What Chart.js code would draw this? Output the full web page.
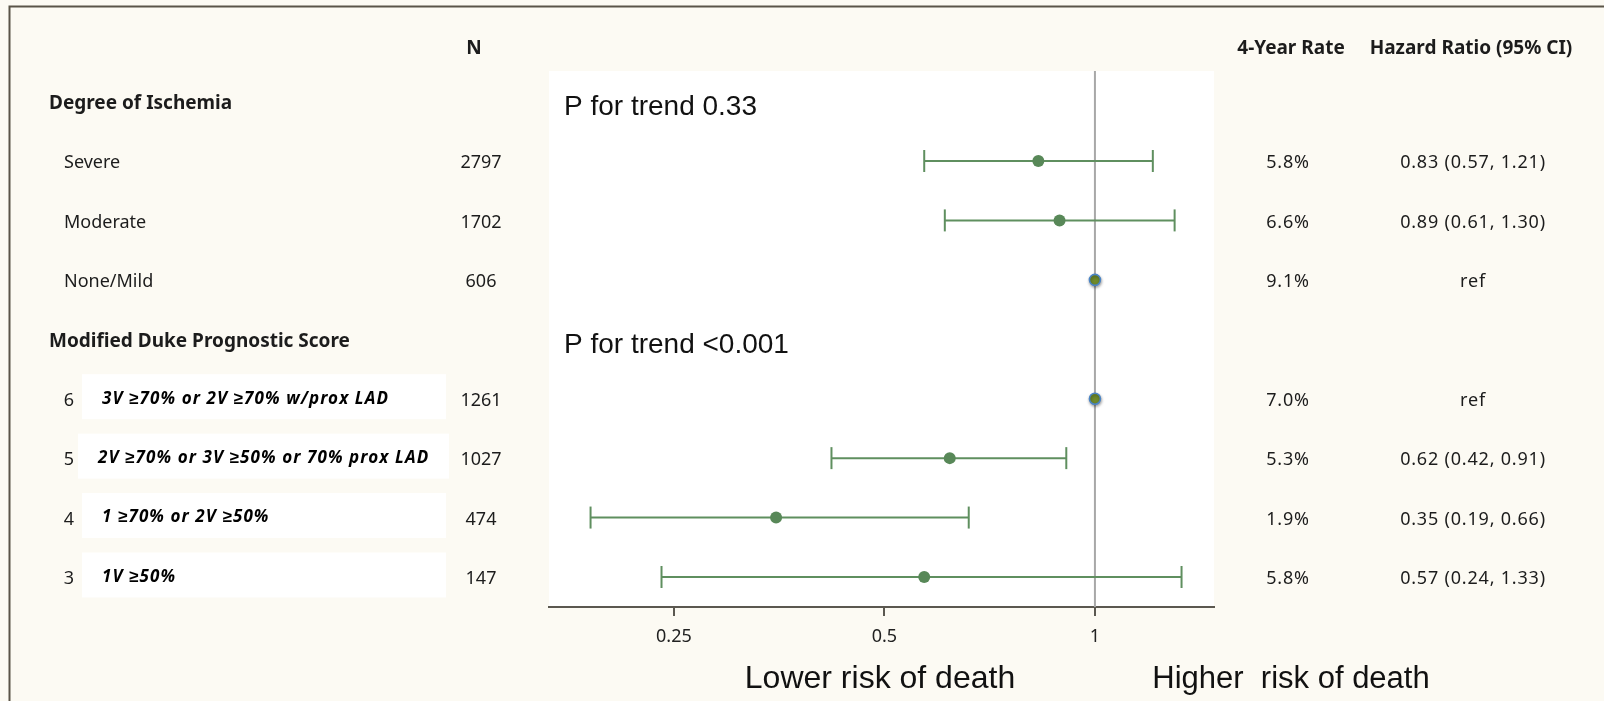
<!DOCTYPE html>
<html>
<head>
<meta charset="utf-8">
<title>Hazard ratios for death by degree of ischemia and modified Duke prognostic score</title>
<script src="https://cdn.jsdelivr.net/npm/chart.js@4.4.1/dist/chart.umd.min.js"></script>
<style>
  html, body { margin: 0; padding: 0; background: #fcfaf3; }
  canvas { display: block; }
</style>
</head>
<body>
<canvas id="forest" width="1604" height="701"></canvas>
<script>
// ---- data ----
const groupHeaders = ['Degree of Ischemia', 'Modified Duke Prognostic Score'];
const groupHeaderRows = [0, 4];
const rowNames = ['Severe', 'Moderate', 'None/Mild',
  '3V \u226570% or 2V \u226570% w/prox LAD',
  '2V \u226570% or 3V \u226550% or 70% prox LAD',
  '1 \u226570% or 2V \u226550%',
  '1V \u226550%'];
const scoreNumbers = ['', '', '', '6', '5', '4', '3'];
const rowIndex = [1, 2, 3, 5, 6, 7, 8];
const nValues = [2797, 1702, 606, 1261, 1027, 474, 147];
const fourYearRate = [5.8, 6.6, 9.1, 7.0, 5.3, 1.9, 5.8];
const hazardRatio = [0.83, 0.89, 1, 1, 0.62, 0.35, 0.57];
const ciLower = [0.57, 0.61, null, null, 0.42, 0.19, 0.24];
const ciUpper = [1.21, 1.30, null, null, 0.91, 0.66, 1.33];
const isReference = [false, false, true, true, false, false, false];
const pTrendText = ['P for trend 0.33', 'P for trend <0.001'];
const pTrendRows = [0, 4];
const xTicks = [0.25, 0.5, 1];
const xRange = [0.1657, 1.48];
const yRange = [-0.514, 8.505];

// ---- colours / fonts ----
const GREEN_LINE = '#5f8f5f';
const GREEN_DOT = '#588858';
const REF_FILL = '#6f8a2a';
const REF_EDGE = '#4a84c6';
const AXIS = '#5b5850';
const TEXT = '#1c1c1c';
const SANS = "'Noto Sans', sans-serif";
const ARIAL = "'Liberation Sans', Arial, sans-serif";

Chart.defaults.font.family = SANS;

// ---- datasets ----
const datasets = [];

// vertical line of no effect at HR = 1
datasets.push({
  type: 'line',
  data: [{ x: 1, y: yRange[0] }, { x: 1, y: yRange[1] }],
  borderColor: '#a8a8a8',
  borderWidth: 2,
  pointRadius: 0,
  order: 10
});

// confidence interval whiskers with end caps
rowIndex.forEach((r, i) => {
  if (ciLower[i] == null) return;
  datasets.push({
    type: 'line',
    data: [{ x: ciLower[i], y: r }, { x: ciUpper[i], y: r }],
    borderColor: GREEN_LINE,
    borderWidth: 2,
    pointStyle: 'line',
    rotation: 90,
    pointRadius: 11,
    pointBorderWidth: 2,
    pointBorderColor: GREEN_LINE,
    pointHoverRadius: 11,
    order: 5
  });
});

// point estimates
datasets.push({
  type: 'scatter',
  data: rowIndex.map((r, i) => ({ x: hazardRatio[i], y: r })).filter((_, i) => !isReference[i]),
  backgroundColor: GREEN_DOT,
  borderColor: GREEN_DOT,
  borderWidth: 0,
  pointRadius: 6,
  order: 2
});

// reference categories
datasets.push({
  type: 'scatter',
  data: rowIndex.map((r, i) => ({ x: hazardRatio[i], y: r })).filter((_, i) => isReference[i]),
  backgroundColor: REF_FILL,
  borderColor: REF_EDGE,
  borderWidth: 1.6,
  pointRadius: 5.5,
  order: 1,
  refMarkers: true
});

// ---- plugins ----
const backdrop = {
  id: 'backdrop',
  beforeDraw(chart) {
    const { ctx, chartArea: a } = chart;
    ctx.save();
    ctx.fillStyle = '#fcfaf3';
    ctx.fillRect(0, 0, chart.width, chart.height);
    ctx.fillStyle = '#ffffff';
    ctx.fillRect(a.left, a.top, a.right - a.left, a.bottom - a.top);
    // outer frame (top and left edges)
    ctx.strokeStyle = '#5a5448';
    ctx.lineWidth = 2;
    ctx.beginPath();
    ctx.moveTo(9.5, chart.height + 5);
    ctx.lineTo(9.5, 6.5);
    ctx.lineTo(chart.width + 5, 6.5);
    ctx.stroke();
    // white label panels for the Duke score rows
    const y = chart.scales.y;
    rowIndex.forEach((r, i) => {
      if (!scoreNumbers[i]) return;
      const cy = y.getPixelForValue(r) - 2;
      const wide = rowNames[i].length > 32;
      const x0 = wide ? 78 : 82;
      const x1 = wide ? 449 : 446;
      ctx.fillRect(x0, cy - 22.5, x1 - x0, 45);
    });
    ctx.restore();
  }
};

const markerShadow = {
  id: 'markerShadow',
  beforeDatasetDraw(chart, args) {
    if (!chart.data.datasets[args.index].refMarkers) return;
    const ctx = chart.ctx;
    ctx.save();
    ctx.shadowColor = 'rgba(0,0,0,0.35)';
    ctx.shadowBlur = 3;
    ctx.shadowOffsetX = 0.5;
    ctx.shadowOffsetY = 1.5;
  },
  afterDatasetDraw(chart, args) {
    if (!chart.data.datasets[args.index].refMarkers) return;
    chart.ctx.restore();
  }
};

const tableText = {
  id: 'tableText',
  afterDraw(chart) {
    const { ctx } = chart;
    const y = chart.scales.y;
    const x = chart.scales.x;
    const dy = 2; // optical centring of text on each row
    ctx.save();
    ctx.fillStyle = TEXT;
    ctx.textBaseline = 'middle';

    // column headers
    ctx.font = `bold 19px ${SANS}`;
    ctx.textAlign = 'center';
    ctx.fillText('N', 474, 49);
    ctx.fillText('4-Year Rate', 1291, 49);
    ctx.fillText('Hazard Ratio (95% CI)', 1471, 49);

    // group headers
    ctx.textAlign = 'left';
    groupHeaders.forEach((h, k) => ctx.fillText(h, 49, y.getPixelForValue(groupHeaderRows[k]) + dy));

    rowIndex.forEach((r, i) => {
      const py = y.getPixelForValue(r) + dy;
      ctx.fillStyle = TEXT;
      if (scoreNumbers[i]) {
        ctx.font = `18px ${SANS}`;
        ctx.textAlign = 'center';
        ctx.fillText(scoreNumbers[i], 69, py);
        ctx.font = `italic bold 17px ${SANS}`;
        ctx.letterSpacing = '1.1px';
        ctx.textAlign = 'left';
        ctx.fillStyle = '#000';
        ctx.fillText(rowNames[i], rowNames[i].length > 32 ? 98 : 102, py - 2);
        ctx.letterSpacing = '0px';
      } else {
        ctx.font = `18px ${SANS}`;
        ctx.textAlign = 'left';
        ctx.fillText(rowNames[i], 64, py);
      }
      ctx.fillStyle = TEXT;
      ctx.font = `18px ${SANS}`;
      ctx.textAlign = 'center';
      ctx.fillText(String(nValues[i]), 481, py);
      ctx.letterSpacing = '0.8px';
      ctx.fillText(fourYearRate[i].toFixed(1) + '%', 1288, py);
      const hr = isReference[i] ? 'ref'
        : `${hazardRatio[i].toFixed(2)} (${ciLower[i].toFixed(2)}, ${ciUpper[i].toFixed(2)})`;
      ctx.fillText(hr, 1473, py);
      ctx.letterSpacing = '0px';
    });

    // trend p-values inside the plot
    ctx.font = `28px ${ARIAL}`;
    ctx.textAlign = 'left';
    ctx.fillStyle = '#111';
    pTrendText.forEach((t, k) => ctx.fillText(t, x.left + 15, y.getPixelForValue(pTrendRows[k]) + 6));

    // direction captions under the axis
    ctx.textAlign = 'center';
    ctx.font = `32px ${ARIAL}`;
    ctx.fillText('Lower risk of death', 880, 679);
    ctx.font = `31px ${ARIAL}`;
    ctx.fillText('Higher  risk of death', 1291, 679);
    ctx.restore();
  }
};

new Chart(document.getElementById('forest'), {
  data: { datasets },
  options: {
    responsive: false,
    animation: false,
    devicePixelRatio: 1,
    layout: { padding: { left: 549, right: 390, top: 71, bottom: 54 } },
    plugins: { legend: { display: false }, tooltip: { enabled: false } },
    scales: {
      x: {
        type: 'logarithmic',
        position: 'bottom',
        min: xRange[0],
        max: xRange[1],
        afterBuildTicks(scale) { scale.ticks = xTicks.map(v => ({ value: v })); },
        afterFit(scale) { scale.height = 40; },
        ticks: {
          callback: v => String(v),
          color: '#222',
          font: { size: 18, family: SANS },
          padding: 10,
          maxRotation: 0,
          autoSkip: false
        },
        grid: {
          drawOnChartArea: false,
          drawTicks: true,
          tickLength: 9,
          color: AXIS,
          lineWidth: 2
        },
        border: { display: true, color: AXIS, width: 2 }
      },
      y: {
        type: 'linear',
        reverse: true,
        min: yRange[0],
        max: yRange[1],
        display: false
      }
    }
  },
  plugins: [backdrop, markerShadow, tableText]
});
</script>
</body>
</html>
